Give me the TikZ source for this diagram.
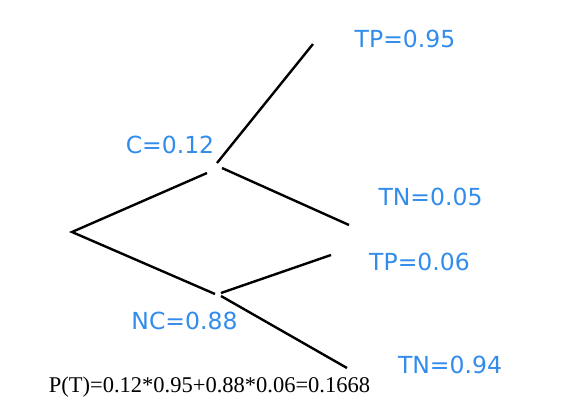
\documentclass[tikz,border=0pt]{standalone}
\usepackage{fontspec}
\setmainfont{Liberation Serif}
\newfontfamily\labelfont{DejaVu Sans}
\usepackage{tikz}
\usetikzlibrary{positioning}
\definecolor{probblue}{RGB}{50, 140, 235}

\begin{document}
\begin{tikzpicture}[
    x=1pt, y=-1pt,
    branch/.style={draw=black, line width=2.4pt},
    prob/.style={anchor=base, inner sep=0pt, text=probblue, font=\labelfont\fontsize{23.5}{28}\selectfont},
    formula/.style={anchor=base, inner sep=0pt, font=\fontsize{22.5}{27}\selectfont}
]
    \useasboundingbox (0,0) rectangle (566,416);

    % branch points
    \coordinate (root) at (72,232);
    \coordinate (c) at (207,173);
    \coordinate (cUp) at (217,163);
    \coordinate (cDown) at (222,168);
    \coordinate (nc) at (215,294);
    \coordinate (ncUp) at (221,293);
    \coordinate (ncDown) at (221,296);
    \coordinate (tp1) at (313,44);
    \coordinate (tn1) at (349,225);
    \coordinate (tp2) at (331,255);
    \coordinate (tn2) at (347,368);

    \draw[branch] (c) -- (root) -- (nc);
    \draw[branch] (cUp) -- (tp1);
    \draw[branch] (cDown) -- (tn1);
    \draw[branch] (ncUp) -- (tp2);
    \draw[branch] (ncDown) -- (tn2);

    \node[prob] (lblC) at (170,153) {C=0.12};
    \node[prob] (lblNC) at (184.5,329) {NC=0.88};
    \node[prob] (lblTP1) at (405,47) {TP=0.95};
    \node[prob] (lblTN1) at (430.5,205) {TN=0.05};
    \node[prob] (lblTP2) at (419.5,270) {TP=0.06};
    \node[prob] (lblTN2) at (450,373) {TN=0.94};

    \node[formula] (total) at (209.5,392) {P(T)=0.12*0.95+0.88*0.06=0.1668};
\end{tikzpicture}
\end{document}
